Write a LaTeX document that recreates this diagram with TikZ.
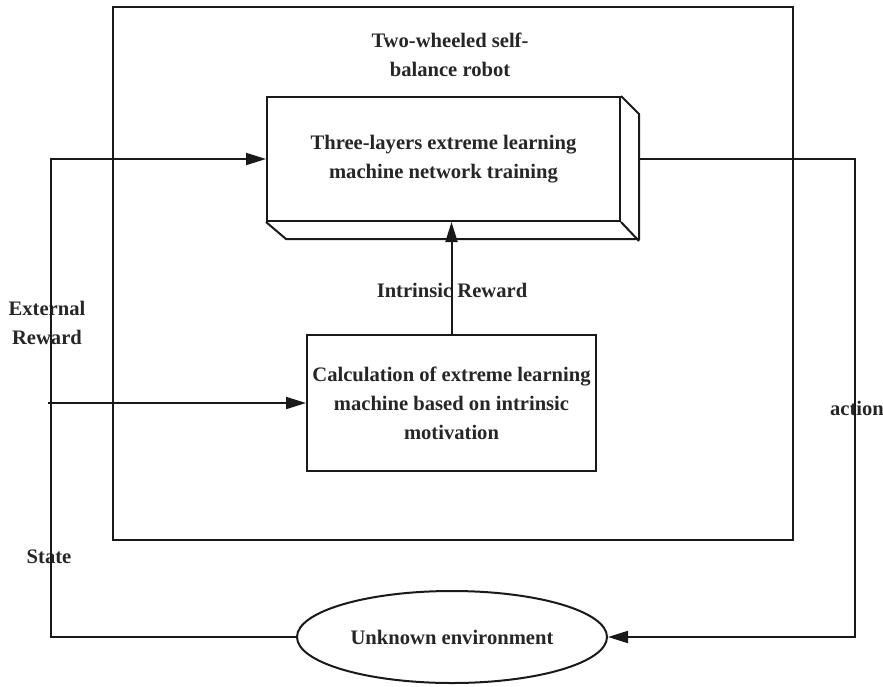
\documentclass[tikz,border=0pt]{standalone}
\usepackage{fontspec}
\setmainfont{Liberation Serif}
\usetikzlibrary{arrows.meta,shapes.geometric}
\begin{document}
\begin{tikzpicture}[x=1pt,y=-1pt,
  every node/.style={font=\fontsize{20.6}{29}\selectfont\bfseries, text=black!85, inner sep=0pt},
  ln/.style={line width=2pt, draw=black!90},
  arr/.style={ln, -{Triangle[length=20pt,width=12pt]}},
  boxnode/.style={draw=black!90, line width=2pt, rectangle, align=center},
  lbl/.style={align=center}]
\useasboundingbox (0,0) rectangle (883,686);
% outer frame
\node[boxnode, minimum width=680pt, minimum height=533pt] (outer) at (453,273.5) {};
% top 3D box
\node[boxnode, minimum width=353pt, minimum height=124pt, fill=white] (ttop) at (443.5,159)
  {Three-layers extreme learning\\machine network training};
\draw[ln, line join=miter] (ttop.north east) -- ++(18,18) -- ++(0,125) -- ++(-353,0) -- (ttop.south west);
\draw[ln] (ttop.south east) -- ++(18,19);
\coordinate (rface) at ([xshift=18pt]ttop.east);
% calc box
\node[boxnode, minimum width=289pt, minimum height=136pt] (calc) at (451.5,403)
  {Calculation of extreme learning\\machine based on intrinsic\\motivation};
% environment
\node[ellipse, draw=black!90, line width=2pt, minimum width=310pt, minimum height=92pt] (env) at (452,637)
  {Unknown environment};
% labels
\node[lbl] (title) at (450,55) {Two-wheeled self-\\balance robot};
\node[lbl] (intr) at (452,290) {Intrinsic Reward};
\node[lbl] (ext) at (47,323) {External\\Reward};
\node[lbl] (state) at (49,557) {State};
\node[lbl] (action) at (857,408) {action};
% coordinates
\coordinate (cL) at (51,159);
\coordinate (cR) at (855,159);
\coordinate (extS) at (48,403);
% connectors
\draw[arr] (env.west) -- (cL |- env.west) -- (cL) -- (ttop.west);
\draw[arr] (rface) -- (cR) -- (cR |- env.east) -- (env.east);
\draw[arr] (extS |- calc.west) -- (calc.west);
\draw[arr] (calc.north) -- (calc.north |- ttop.south);
\end{tikzpicture}
\end{document}
